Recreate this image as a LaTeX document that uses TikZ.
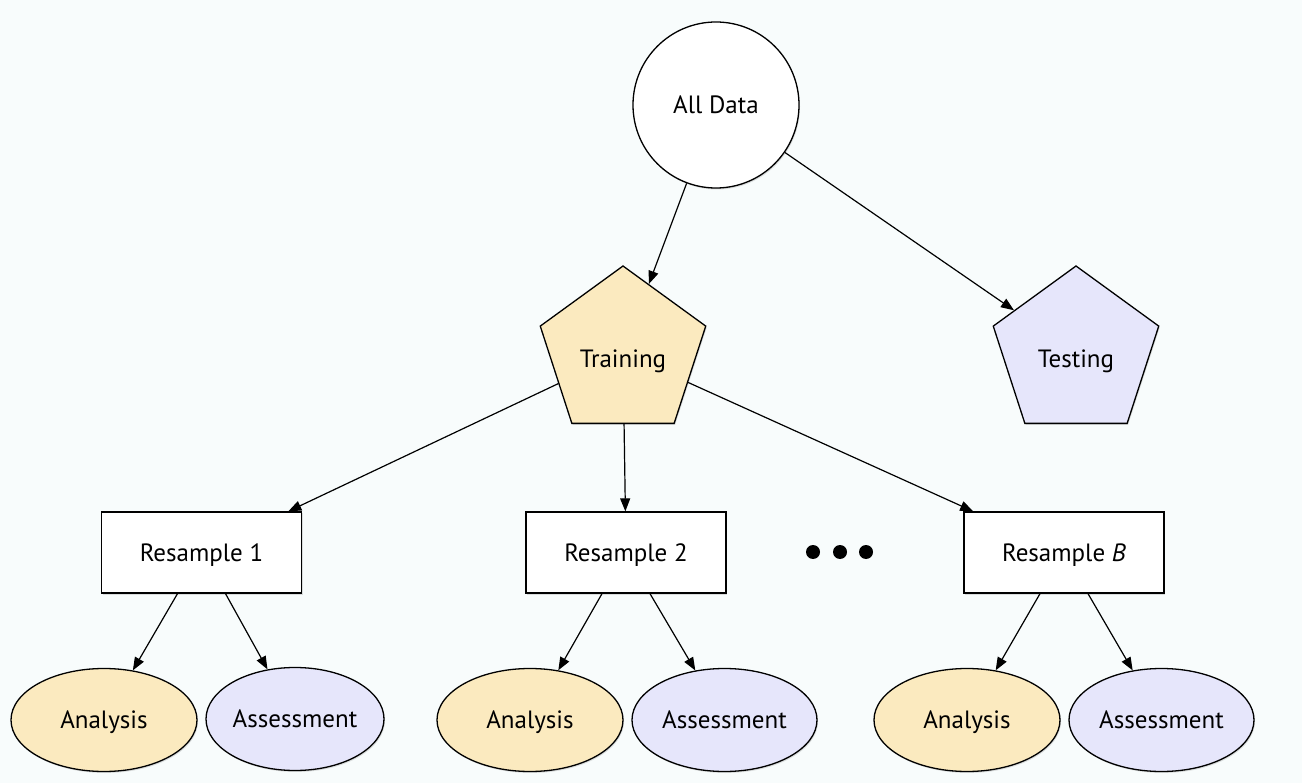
\documentclass[tikz,border=0pt]{standalone}
\usepackage{fontspec}
\setmainfont{PT Sans}
\usetikzlibrary{shapes.geometric,arrows.meta,shadows}
\definecolor{bgc}{RGB}{248,252,252}
\definecolor{yel}{RGB}{251,234,191}
\definecolor{lav}{RGB}{230,230,251}
\tikzset{
  base/.style={draw=black, line width=1.3pt, font=\fontsize{25}{30}\selectfont,
    text height=22.5pt, text depth=5pt,
    drop shadow={shadow xshift=1pt, shadow yshift=-1.5pt, opacity=0.25}},
  datacirc/.style={base, circle, fill=white, minimum size=166pt, inner sep=0pt},
  pent/.style={base, regular polygon, regular polygon sides=5, minimum size=174pt, inner sep=0pt},
  rbox/.style={base, rectangle, fill=white, minimum width=200pt, minimum height=81pt, inner sep=0pt},
  ell/.style={base, ellipse, minimum width=186pt, minimum height=103pt, inner sep=0pt},
  arr/.style={line width=1.2pt, -{Triangle[length=13pt, width=10pt]}},
  dot/.style={circle, fill=black, minimum size=14pt, inner sep=0pt}
}
\begin{document}
\begin{tikzpicture}[x=1pt,y=-1pt]
\fill[bgc] (0,0) rectangle (1302,783);
\useasboundingbox (0,0) rectangle (1302,783);
\node[datacirc] (all) at (716,105) {All Data};
\node[pent, fill=yel] (train) at (623,353) {\raisebox{-6pt}[\height][\depth]{Training}};
\node[pent, fill=lav] (test) at (1076,353) {\raisebox{-6pt}[\height][\depth]{Testing}};
\node[rbox] (r1) at (201.5,552.5) {Resample 1};
\node[rbox] (r2) at (626,552.5) {Resample 2};
\node[rbox] (rB) at (1064,552.5) {Resample \textit{B}};
\node[dot] (d1) at (813,552) {};
\node[dot] (d2) at (840,552) {};
\node[dot] (d3) at (866,552) {};
\node[ell, fill=yel] (a1) at (104,720) {Analysis};
\node[ell, fill=lav, minimum width=178pt] (s1) at (295,719) {Assessment};
\node[ell, fill=yel] (a2) at (530,720) {Analysis};
\node[ell, fill=lav, minimum width=185pt] (s2) at (724.5,720) {Assessment};
\node[ell, fill=yel] (a3) at (967,720) {Analysis};
\node[ell, fill=lav, minimum width=185pt] (s3) at (1161.5,720) {Assessment};
\draw[arr] (all) -- (train);
\draw[arr] (all) -- (test);
\draw[arr] (train) -- (r1);
\draw[arr] (train) -- (r2);
\draw[arr] (train) -- (rB);
\draw[arr] ([xshift=-24pt]r1.south) -- (a1);
\draw[arr] ([xshift=24pt]r1.south) -- (s1);
\draw[arr] ([xshift=-24pt]r2.south) -- (a2);
\draw[arr] ([xshift=24pt]r2.south) -- (s2);
\draw[arr] ([xshift=-24pt]rB.south) -- (a3);
\draw[arr] ([xshift=24pt]rB.south) -- (s3);
\end{tikzpicture}
\end{document}
